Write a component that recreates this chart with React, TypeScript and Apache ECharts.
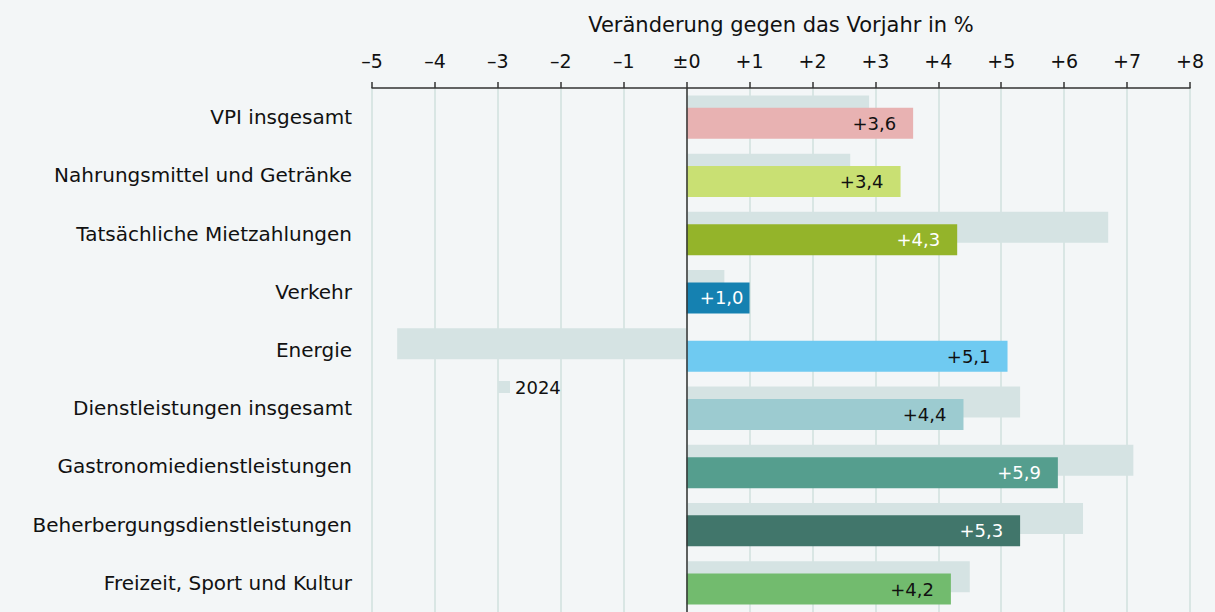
import React, { useEffect, useRef } from "react";
import * as echarts from "echarts";

const categories = [
  "VPI insgesamt",
  "Nahrungsmittel und Getränke",
  "Tatsächliche Mietzahlungen",
  "Verkehr",
  "Energie",
  "Dienstleistungen insgesamt",
  "Gastronomiedienstleistungen",
  "Beherbergungsdienstleistungen",
  "Freizeit, Sport und Kultur",
];
const values2025 = [3.6, 3.4, 4.3, 1.0, 5.1, 4.4, 5.9, 5.3, 4.2];
const values2024 = [2.9, 2.6, 6.7, 0.6, -4.6, 5.3, 7.1, 6.3, 4.5];
const barColors = [
  "#e8b2b2",
  "#c9e073",
  "#94b42a",
  "#1581b1",
  "#6fcaf1",
  "#9ccbd0",
  "#559e8e",
  "#41766b",
  "#72bb6e",
];
const labelColors = ["#111", "#111", "#fff", "#fff", "#111", "#111", "#fff", "#fff", "#111"];
const labelDistances = [17, 17, 17, 6, 17, 17, 17, 17, 17];
const FONT = "DejaVu Sans";

const fmtTick = (v: number) => {
  if (v === 0) return "±0";
  if (v < 0) return "\u2013" + Math.abs(v);
  return "+" + v;
};
const fmtVal = (v: number) =>
  (v > 0 ? "+" : v < 0 ? "\u2013" : "±") + Math.abs(v).toFixed(1).replace(".", ",");

export default function App() {
  const ref = useRef<HTMLDivElement>(null);
  useEffect(() => {
    document.body.style.margin = "0";
    const chart = echarts.init(ref.current!, null, { renderer: "svg" });
    chart.setOption({
      animation: false,
      backgroundColor: "#f3f6f7",
      textStyle: { fontFamily: FONT },
      legend: {
        data: ["2024"],
        left: 493,
        top: 373,
        itemWidth: 12,
        itemHeight: 12,
        itemGap: 5,
        icon: "rect",
        textStyle: { fontSize: 18, color: "#111", fontFamily: FONT },
      },
      grid: { left: 372, right: 25, top: 88, height: 526, containLabel: false },
      xAxis: {
        type: "value",
        position: "top",
        min: -5,
        max: 8,
        interval: 1,
        name: "Veränderung gegen das Vorjahr in %",
        nameLocation: "middle",
        nameGap: 53,
        nameTextStyle: { fontSize: 21, color: "#111", fontFamily: FONT },
        axisLine: { show: true, lineStyle: { color: "#333", width: 1.5 } },
        axisTick: { show: true, length: 6, lineStyle: { color: "#333", width: 1.5 } },
        axisLabel: { formatter: fmtTick, fontSize: 19, color: "#111", margin: 18, fontFamily: FONT },
        splitLine: { show: true, lineStyle: { color: "#d9e6e4", width: 2 } },
      },
      yAxis: {
        type: "category",
        data: categories,
        inverse: true,
        axisLine: { show: false },
        axisTick: { show: false },
        axisLabel: { fontSize: 20, color: "#111", margin: 20, fontFamily: FONT },
      },
      series: [
        {
          name: "2024",
          type: "bar",
          data: values2024,
          barWidth: 31,
          barGap: "-60%",
          itemStyle: { color: "#d5e3e3" },
          silent: true,
        },
        {
          name: "2025",
          type: "bar",
          data: values2025.map((v, i) => ({
            value: v,
            itemStyle: { color: barColors[i] },
            label: { color: labelColors[i], distance: labelDistances[i] },
          })),
          barWidth: 31,
          label: {
            show: true,
            position: "insideRight",
            distance: 17,
            fontSize: 18,
            fontFamily: FONT,
            formatter: (p: any) => fmtVal(p.value),
            color: "#111",
          },
          markLine: {
            silent: true,
            symbol: "none",
            label: { show: false },
            lineStyle: { color: "#333", width: 1.5, type: "solid" },
            data: [{ xAxis: 0 }],
          },
        },
      ],
    });
    return () => chart.dispose();
  }, []);
  return <div ref={ref} style={{ width: 1215, height: 612 }} />;
}
